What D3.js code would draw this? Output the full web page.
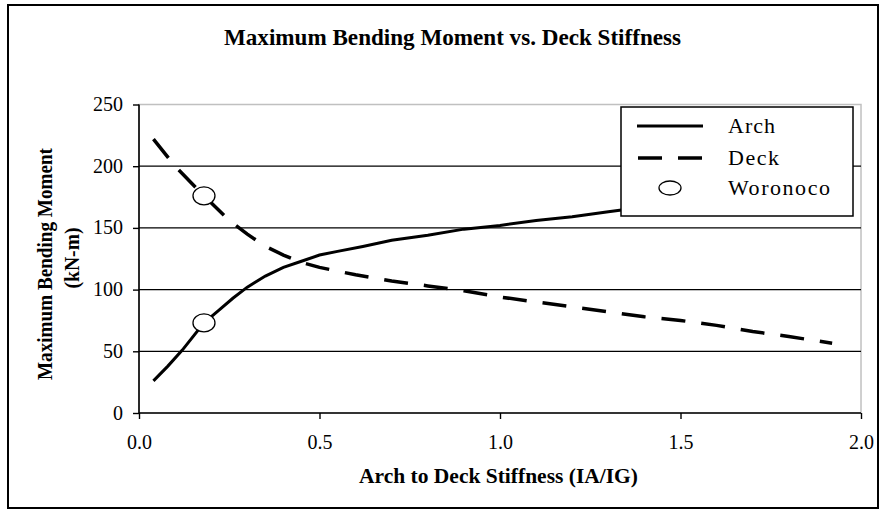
<!DOCTYPE html>
<html><head><meta charset="utf-8">
<script src="https://cdn.jsdelivr.net/npm/d3@7"></script>
<style>
html,body{margin:0;padding:0;background:#fff;}
svg{display:block;}
text{font-family:"Liberation Serif","Times New Roman",serif;fill:#000;}
</style></head>
<body>
<svg id="chart" width="881" height="512"></svg>
<script>
const chartTitle = "Maximum Bending Moment vs. Deck Stiffness";
const xTitle = "Arch to Deck Stiffness (IA/IG)";
const yTitle1 = "Maximum Bending Moment";
const yTitle2 = "(kN-m)";
const xTicks = [0, 0.5, 1.0, 1.5, 2.0];
const yTicks = [0, 50, 100, 150, 200, 250];
const archX = [0.04, 0.08, 0.12, 0.18, 0.22, 0.26, 0.30, 0.35, 0.40, 0.45, 0.5, 0.55, 0.62, 0.7, 0.8, 0.9, 1.0, 1.1, 1.2, 1.3, 1.4, 1.5, 1.6, 1.7, 1.8, 1.92];
const archY = [26, 38, 51, 73, 83, 93, 102, 111, 118, 123, 128, 131, 135, 140, 144, 149, 152, 156, 159, 163, 167, 170, 173, 176, 179, 183];
const deckX = [0.04, 0.1, 0.18, 0.25, 0.3, 0.35, 0.4, 0.45, 0.5, 0.6, 0.7, 0.8, 0.9, 1.0, 1.1, 1.2, 1.3, 1.4, 1.5, 1.6, 1.7, 1.8, 1.92];
const deckY = [222, 200, 176, 156, 145, 135, 128, 122, 118, 112, 107, 103, 99, 94, 90, 86, 82, 78, 75, 71, 66, 62, 56.5];
const woronocoX = [0.18, 0.18];
const woronocoY = [176, 73];
const legendLabels = ["Arch", "Deck", "Woronoco"];

const svg = d3.select("#chart");
const L = 139, R = 861, T = 104.5, B = 413;
const x = d3.scaleLinear().domain([0, 2]).range([L, R]);
const y = d3.scaleLinear().domain([0, 250]).range([B, T]);
const FONT = '"Liberation Serif","Times New Roman",serif';

// outer frame
svg.append("rect").attr("x", 8).attr("y", 5).attr("width", 870).attr("height", 503)
  .attr("fill", "#fff").attr("stroke", "#000").attr("stroke-width", 2);

// title
svg.append("text").attr("x", 452.5).attr("y", 45).attr("text-anchor", "middle")
  .attr("font-size", 22.5).attr("font-weight", "bold")
  .attr("textLength", 457).attr("lengthAdjust", "spacingAndGlyphs").text(chartTitle);

// plot border (gray)
svg.append("rect").attr("x", L).attr("y", T).attr("width", R - L).attr("height", B - T)
  .attr("fill", "none").attr("stroke", "#c0c0c0").attr("stroke-width", 1.5);

// gridlines
svg.append("g").selectAll("line").data(yTicks.filter(d => d > 0 && d < 250)).join("line")
  .attr("x1", L).attr("x2", R).attr("y1", d => y(d)).attr("y2", d => y(d))
  .attr("stroke", "#000").attr("stroke-width", 1.3);

// axes
const xAxis = d3.axisBottom(x).tickValues(xTicks).tickSize(6).tickFormat(d3.format(".1f"));
const gx = svg.append("g").attr("transform", `translate(0,${B})`).call(xAxis);
gx.select(".domain").attr("stroke", "#000").attr("stroke-width", 1.6).attr("d", `M${L},0H${R}`);
gx.selectAll(".tick line").attr("stroke", "#000").attr("stroke-width", 1.4);
gx.selectAll(".tick text").attr("font-size", 20).attr("font-family", FONT)
  .attr("y", 0).attr("dy", 36).attr("fill", "#000");

const yAxis = d3.axisLeft(y).tickValues(yTicks).tickSize(6);
const gy = svg.append("g").attr("transform", `translate(${L},0)`).call(yAxis);
gy.select(".domain").attr("stroke", "#000").attr("stroke-width", 1.6).attr("d", `M0,${T}V${B}`);
gy.selectAll(".tick line").attr("stroke", "#000").attr("stroke-width", 1.4);
gy.selectAll(".tick text").attr("font-size", 20).attr("font-family", FONT)
  .attr("x", -16).attr("dy", "0.3em").attr("fill", "#000");

// axis titles
svg.append("text").attr("x", 498.5).attr("y", 483).attr("text-anchor", "middle")
  .attr("font-size", 21).attr("font-weight", "bold")
  .attr("textLength", 279).attr("lengthAdjust", "spacingAndGlyphs").text(xTitle);
svg.append("text").attr("transform", "translate(51.5,264) rotate(-90)").attr("text-anchor", "middle")
  .attr("font-size", 21).attr("font-weight", "bold")
  .attr("textLength", 232).attr("lengthAdjust", "spacingAndGlyphs").text(yTitle1);
svg.append("text").attr("transform", "translate(79,258) rotate(-90)").attr("text-anchor", "middle")
  .attr("font-size", 21).attr("font-weight", "bold")
  .attr("textLength", 61).attr("lengthAdjust", "spacingAndGlyphs").text(yTitle2);

// lines
const line = d3.line().x(d => x(d[0])).y(d => y(d[1]));
const archData = archX.map((v, i) => [v, archY[i]]);
const deckData = deckX.map((v, i) => [v, deckY[i]]);
svg.append("path").datum(archData).attr("d", line).attr("fill", "none")
  .attr("stroke", "#000").attr("stroke-width", 3);
svg.append("path").datum(deckData).attr("d", line).attr("fill", "none")
  .attr("stroke", "#000").attr("stroke-width", 3.5).attr("stroke-dasharray", "24,16");

// markers
svg.append("g").selectAll("ellipse").data(woronocoX.map((v, i) => [v, woronocoY[i]])).join("ellipse")
  .attr("cx", d => x(d[0])).attr("cy", d => y(d[1])).attr("rx", 11).attr("ry", 9)
  .attr("fill", "#fff").attr("stroke", "#000").attr("stroke-width", 1.3);

// legend
const lg = svg.append("g");
lg.append("rect").attr("x", 621).attr("y", 107).attr("width", 232).attr("height", 109)
  .attr("fill", "#fff").attr("stroke", "#000").attr("stroke-width", 1.5);
const ly = [126, 158, 188];
lg.append("line").attr("x1", 637).attr("x2", 703).attr("y1", ly[0]).attr("y2", ly[0])
  .attr("stroke", "#000").attr("stroke-width", 3);
lg.append("line").attr("x1", 638).attr("x2", 703).attr("y1", ly[1]).attr("y2", ly[1])
  .attr("stroke", "#000").attr("stroke-width", 3.5).attr("stroke-dasharray", "24,16");
lg.append("ellipse").attr("cx", 670).attr("cy", ly[2]).attr("rx", 11).attr("ry", 7)
  .attr("fill", "#fff").attr("stroke", "#000").attr("stroke-width", 1.3);
const legendWidths = [47, 51, 102];
lg.selectAll("text.lt").data(legendLabels).join("text").attr("class", "lt")
  .attr("x", 728).attr("y", (d, i) => ly[i] + 7).attr("font-size", 22)
  .attr("textLength", (d, i) => legendWidths[i]).attr("lengthAdjust", "spacing").text(d => d);
</script>
</body></html>
